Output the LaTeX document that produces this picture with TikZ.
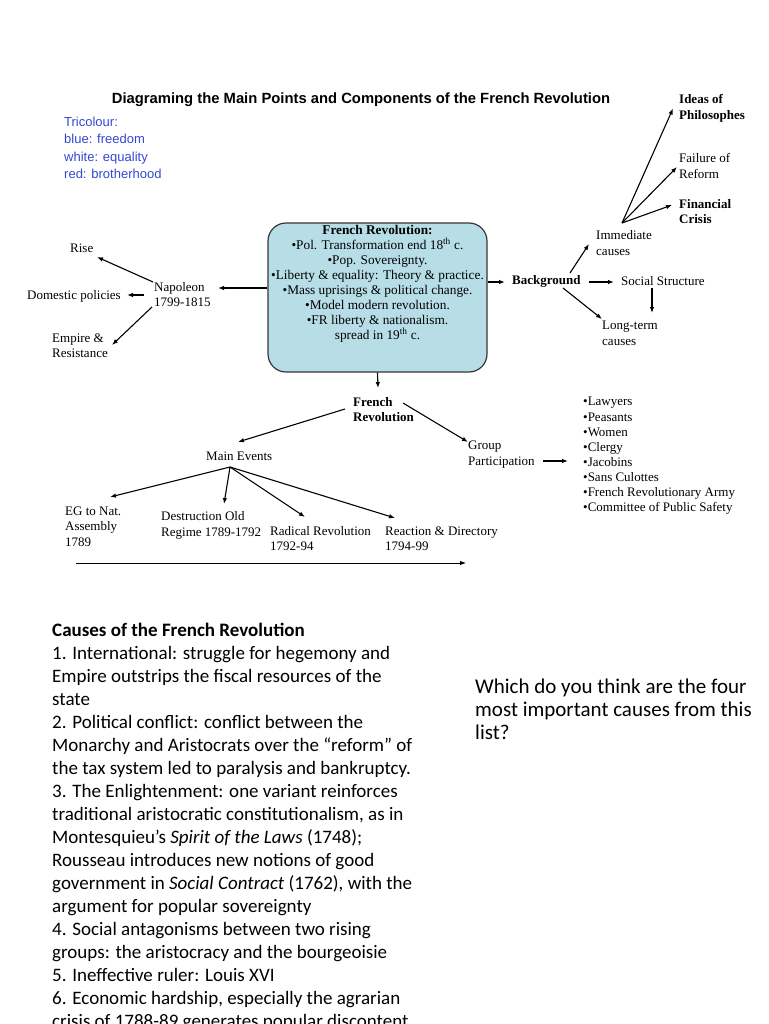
\documentclass[tikz,border=0pt]{standalone}
\usepackage{fontspec}
\setmainfont{Liberation Serif}
\newfontfamily\arialfont{Liberation Sans}
\newfontfamily\calibrifont{Carlito}
\usetikzlibrary{fit,calc,positioning,arrows.meta}
\definecolor{tricolblue}{RGB}{52,72,210}
\definecolor{boxcyan}{RGB}{183,222,230}
\definecolor{boxedge}{RGB}{55,55,55}
\newcommand{\dgfont}{\fontsize{13}{15.4}\selectfont}
\newcommand{\notefont}{\calibrifont\fontsize{19}{23}\selectfont}

\tikzset{
  txt/.style={anchor=west, align=left, inner sep=0pt, font=\dgfont},
  txtb/.style={txt, font=\dgfont\bfseries},
  note/.style={anchor=north west, align=left, inner sep=0pt, font=\notefont},
  arr/.style={->, line width=1.1pt},
}

\begin{document}
\begin{tikzpicture}[x=1pt,y=-1pt,>={Latex[length=6pt,width=4.5pt]}]
  \useasboundingbox (0,0) rectangle (768,1024);
  \fill[white] (0,0) rectangle (768,1024);
  \clip (0,0) rectangle (768,1024);

  % title and tricolour
  \node(title) at (361,100) {\arialfont\bfseries\fontsize{14.8}{17}\selectfont Diagraming the Main Points and Components of the French Revolution};
  \node(tricol)[txt, font=\arialfont\fontsize{13}{17.4}\selectfont, text=tricolblue] at (64,148) {Tricolour:\\blue: freedom\\white: equality\\red: brotherhood};

  % central box
  \node(frbox)[draw=boxedge, line width=1.2pt, fill=boxcyan, rounded corners=18pt, inner sep=0pt, fit={(268,223) (487,372)}] {};
  \node(frtext)[inner sep=0pt, align=center, font=\fontsize{13.3}{15}\selectfont, anchor=north] at ([yshift=-3pt]frbox.north)
    {\textbf{French Revolution:}\\
     •Pol. Transformation end 18\textsuperscript{th} c.\\
     •Pop. Sovereignty.\\
     •Liberty \& equality: Theory \& practice.\\
     •Mass uprisings \& political change.\\
     •Model modern revolution.\\
     •FR liberty \& nationalism.\\
     spread in 19\textsuperscript{th} c.};

  % background side
  \node(ideas)[txtb] at (679,108.5) {Ideas of\\Philosophes};
  \node(fail)[txt] at (679,166) {Failure of\\Reform};
  \node(fin)[txtb] at (679,211.5) {Financial\\Crisis};
  \node(imm)[txt] at (596,243) {Immediate\\causes};
  \node(bg)[txtb] at (512,281) {Background};
  \node(soc)[txt] at (621,281) {Social Structure};
  \node(lt)[txt] at (602,333.5) {Long-term\\causes};

  % napoleon side
  \node(nap)[txt] at (154,294.5) {Napoleon\\1799-1815};
  \node(rise)[txt] at (70,248) {Rise};
  \node(dom)[txt] at (27,296) {Domestic policies};
  \node(emp)[txt] at (52,346) {Empire \&\\Resistance};

  % lower part
  \node(frev)[txtb] at (353,409.5) {French\\Revolution};
  \node(mev)[txt] at (206,456) {Main Events};
  \node(grp)[txt] at (468,454.5) {Group\\Participation};
  \node(list)[txt, font=\fontsize{13}{15.14}\selectfont] at (583,456)
    {•Lawyers\\•Peasants\\•Women\\•Clergy\\•Jacobins\\•Sans Culottes\\•French Revolutionary Army\\•Committee of Public Safety};
  \node(eg)[txt, font=\fontsize{13}{15.5}\selectfont] at (65,526.5) {EG to Nat.\\Assembly\\1789};
  \node(des)[txt] at (161,525.5) {Destruction Old\\Regime 1789-1792};
  \node(rad)[txt] at (270,538.5) {Radical Revolution\\1792-94};
  \node(rea)[txt] at (385,538.5) {Reaction \& Directory\\1794-99};

  \draw[arr] ([xshift=26pt,yshift=20pt]imm.west) -- ([xshift=-6pt]ideas.west);
  \draw[arr] ([xshift=26pt,yshift=20pt]imm.west) -- ([xshift=-2pt,yshift=-1pt]fail.west);
  \draw[arr] ([xshift=26pt,yshift=20pt]imm.west) -- ([xshift=-7pt,yshift=6.5pt]fin.west);
  \draw[arr] ([xshift=58pt,yshift=8pt]bg.west) -- ([xshift=-7pt,yshift=-1pt]imm.west);
  \draw[arr] ([xshift=77pt,yshift=-1pt]bg.west) -- ([xshift=-7pt,yshift=-1pt]soc.west);
  \draw[arr] ([xshift=31pt,yshift=-7pt]soc.west) -- ([xshift=50pt,yshift=20.5pt]lt.west);
  \draw[arr] ([xshift=51pt,yshift=-7pt]bg.west) -- ([yshift=14.5pt]lt.west);
  \draw[arr] ([yshift=15.5pt]frbox.east) -- ([xshift=-7pt,yshift=-1pt]bg.west);

  \draw[arr, line width=1.6pt] ([yshift=9.5pt]frbox.west) -- ([xshift=64pt,yshift=6.5pt]nap.west);
  \draw[arr] ([xshift=-1pt,yshift=12.5pt]nap.west) -- ([xshift=27pt,yshift=-9pt]rise.west);
  \draw[arr] ([xshift=-10pt,yshift=-0.5pt]nap.west) -- ([xshift=100pt,yshift=1pt]dom.west);
  \draw[arr] ([xshift=-2pt,yshift=-12.5pt]nap.west) -- ([xshift=60pt,yshift=1pt]emp.west);

  \draw[arr] (frbox.south) -- ([xshift=25pt,yshift=21.5pt]frev.west);
  \draw[arr] ([xshift=-8pt,yshift=0.5pt]frev.west) -- ([xshift=32pt,yshift=14pt]mev.west);
  \draw[arr] ([xshift=50pt,yshift=6.5pt]frev.west) -- ([yshift=12.5pt]grp.west);
  \draw[arr] ([xshift=75pt,yshift=-6.5pt]grp.west) -- ([xshift=-15pt,yshift=-5pt]list.west);

  \coordinate(mevb) at ([xshift=24pt,yshift=-11pt]mev.west);
  \draw[arr] (mevb) -- ([xshift=45pt,yshift=29.5pt]eg.west);
  \draw[arr] (mevb) -- ([xshift=63pt,yshift=21.5pt]des.west);
  \draw[arr] (mevb) -- ([xshift=35pt,yshift=21.5pt]rad.west);
  \draw[arr] (mevb) -- ([xshift=10pt,yshift=20.5pt]rea.west);

  % timeline
  \coordinate(tlstart) at (76,563);
  \coordinate(tlend) at (466,563);
  \draw[arr, line width=0.9pt] (tlstart) -- (tlend);

  % notes below
  \node(causes)[note] at (52,623)
    {\textbf{Causes of the French Revolution}\\
     1. International: struggle for hegemony and\\
     Empire outstrips the fiscal resources of the\\
     state\\
     2. Political conflict: conflict between the\\
     Monarchy and Aristocrats over the “reform” of\\
     the tax system led to paralysis and bankruptcy.\\
     3. The Enlightenment: one variant reinforces\\
     traditional aristocratic constitutionalism, as in\\
     Montesquieu’s \textit{Spirit of the Laws} (1748);\\
     Rousseau introduces new notions of good\\
     government in \textit{Social Contract} (1762), with the\\
     argument for popular sovereignty\\
     4. Social antagonisms between two rising\\
     groups: the aristocracy and the bourgeoisie\\
     5. Ineffective ruler: Louis XVI\\
     6. Economic hardship, especially the agrarian\\
     crisis of 1788-89 generates popular discontent};
  \node(which)[note, font=\calibrifont\fontsize{21}{23}\selectfont] at (475,679)
    {Which do you think are the four\\
     most important causes from this\\
     list?};
\end{tikzpicture}
\end{document}
